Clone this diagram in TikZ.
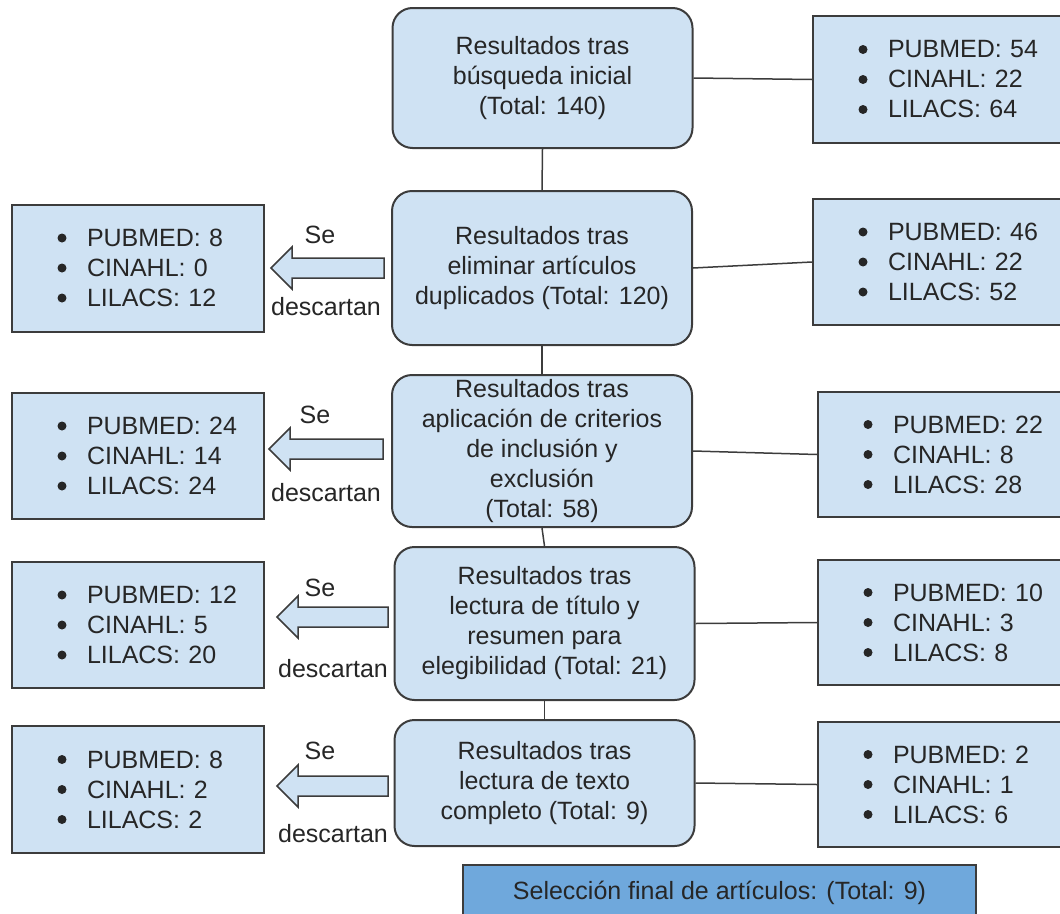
\documentclass[tikz,border=0pt]{standalone}
\usepackage{fontspec}
\setmainfont{Liberation Sans}
\usepackage{xcolor}
\usepackage{tikz}
\usetikzlibrary{calc,positioning}

\definecolor{boxblue}{HTML}{CFE2F3}
\definecolor{finblue}{HTML}{6FA8DC}
\definecolor{edge}{HTML}{3C3C3C}
\definecolor{ink}{HTML}{262626}
\newcommand{\listindent}{\hspace*{49pt}}

\begin{document}
\begin{tikzpicture}[x=1pt,y=-1pt,
  every node/.style={font=\fontsize{25}{30}\selectfont,text=ink},
  res/.style={draw=edge,fill=boxblue,line width=2pt,rounded corners=20pt,minimum width=300pt,align=center,inner sep=0pt},
  db/.style={draw=edge,fill=boxblue,line width=2pt,minimum width=252pt,text width=200pt,inner xsep=26pt,inner ysep=0pt,align=left},
  fin/.style={draw=edge,fill=finblue,line width=2pt,minimum width=513pt,minimum height=55pt,inner sep=0pt},
  discard/.style={draw=edge,fill=boxblue,line width=1.5pt,line join=miter},
  link/.style={draw=edge,line width=1.5pt}]

\clip (0,0) rectangle (1060,913);

% central column
  \node[res,minimum height=140pt] (res1) at (542.5,78) {Resultados tras\\búsqueda inicial\\(Total: 140)};
  \node[res,minimum height=154pt] (res2) at (542,268) {Resultados tras\\eliminar artículos\\duplicados (Total: 120)};
  \node[res,minimum height=152pt] (res3) at (542,451) {Resultados tras\\aplicación de criterios\\de inclusión y\\exclusión\\(Total: 58)};
  \node[res,minimum height=153pt] (res4) at (544.5,623.5) {Resultados tras\\lectura de título y\\resumen para\\elegibilidad (Total: 21)};
  \node[res,minimum height=126pt] (res5) at (544.5,783) {Resultados tras\\lectura de texto\\completo (Total: 9)};

% discarded per database
  \node[db,minimum height=127pt] (out1) at (138,268) {\listindent PUBMED: 8\\\listindent CINAHL: 0\\\listindent LILACS: 12};
  \node[db,minimum height=126pt] (out2) at (138,456) {\listindent PUBMED: 24\\\listindent CINAHL: 14\\\listindent LILACS: 24};
  \node[db,minimum height=126pt] (out3) at (138,625) {\listindent PUBMED: 12\\\listindent CINAHL: 5\\\listindent LILACS: 20};
  \node[db,minimum height=127pt] (out4) at (138,789.5) {\listindent PUBMED: 8\\\listindent CINAHL: 2\\\listindent LILACS: 2};

% kept per database
  \node[db,minimum height=127pt] (db1) at (939,79.5) {\listindent PUBMED: 54\\\listindent CINAHL: 22\\\listindent LILACS: 64};
  \node[db,minimum height=126pt] (db2) at (939,262) {\listindent PUBMED: 46\\\listindent CINAHL: 22\\\listindent LILACS: 52};
  \node[db,minimum height=125pt] (db3) at (944,454.5) {\listindent PUBMED: 22\\\listindent CINAHL: 8\\\listindent LILACS: 28};
  \node[db,minimum height=125pt] (db4) at (944,622.5) {\listindent PUBMED: 10\\\listindent CINAHL: 3\\\listindent LILACS: 8};
  \node[db,minimum height=125pt] (db5) at (944,784.5) {\listindent PUBMED: 2\\\listindent CINAHL: 1\\\listindent LILACS: 6};

% bullets
\foreach \n in {out1,out2,out3,out4,db1,db2,db3,db4,db5}
  \foreach \k in {-30,0,30}
    \fill[ink] ($(\n.west)+(51,\k)$) circle (4.5pt);

  \node[fin] (final) at (719.5,892.5) {Selección final de artículos: (Total: 9)};

% block arrows
\foreach \i/\tx/\ty/\ex/\sx/\sy/\dx/\dy in {1/271/268/384/320/235/326/307,2/269/449/383/315/415/326/493,3/277/617/388/320/588/333/669,4/277/786/388/320/751/333/834}{
  \draw[discard] (\tx,\ty) -- ++(21,-21) -- ++(0,11) -- (\ex,\ty-10) -- (\ex,\ty+10) -- (\tx+21,\ty+10) -- ++(0,11) -- cycle;
  \node (se\i) at (\sx,\sy) {Se};
  \node (des\i) at (\dx,\dy) {descartan};
}

  \draw[link] (res1.south) -- (res2.north);
  \draw[link] (res2.south) -- (res3.north);
  \draw[link] (res3.south) -- (res4.north);
  \draw[link] (res4.south) -- (res5.north);
  \draw[link] (res1.east) -- (db1.west);
  \draw[link] (res2.east) -- (db2.west);
  \draw[link] (res3.east) -- (db3.west);
  \draw[link] (res4.east) -- (db4.west);
  \draw[link] (res5.east) -- (db5.west);
\end{tikzpicture}
\end{document}
